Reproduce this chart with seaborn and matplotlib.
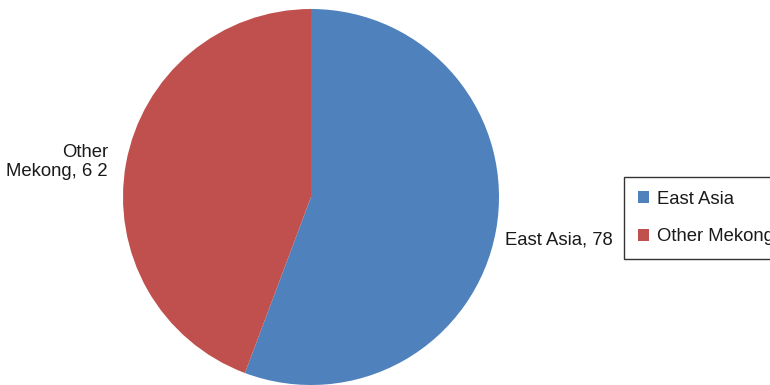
import matplotlib
matplotlib.use("Agg")
import matplotlib.pyplot as plt
import seaborn as sns

categories = ["East Asia", "Other Mekong"]
values = [78, 62]
label_texts = ["East Asia, 78", "Other\nMekong, 6 2"]
colors = ["#4F81BD", "#C0504D"]

sns.set_theme(style="white")
plt.rcParams["font.family"] = ["Liberation Sans", "DejaVu Sans"]

W, H = 770, 385
fig = plt.figure(figsize=(W / 100, H / 100), dpi=100)
fig.patch.set_facecolor("white")

cx, cy, r = 311, 197, 188
ax = fig.add_axes([(cx - r) / W, (H - cy - r) / H, 2 * r / W, 2 * r / H])
wedges, _ = ax.pie(values, colors=colors, startangle=90, counterclock=False,
                   radius=1.0, wedgeprops=dict(edgecolor="none"))
ax.set_xlim(-1, 1)
ax.set_ylim(-1, 1)
ax.set_aspect("equal")
ax.axis("off")

fs = 13.3
fig.text(505 / W, 1 - 240 / H, label_texts[0], ha="left", va="center",
         fontsize=fs, color="#1a1a1a")
fig.text(108 / W, 1 - 162 / H, label_texts[1], ha="right", va="center",
         fontsize=fs, color="#1a1a1a", multialignment="right", linespacing=1.2)

leg = fig.legend(wedges, categories, loc="upper left",
                 bbox_to_anchor=(624 / W, 1 - 177 / H), bbox_transform=fig.transFigure,
                 frameon=True, fancybox=False, fontsize=fs,
                 handlelength=0.6, handleheight=0.6, handletextpad=0.45,
                 labelspacing=1.1, borderpad=0.75, borderaxespad=0)
leg.get_frame().set_edgecolor("black")
leg.get_frame().set_linewidth(1.0)
for t in leg.get_texts():
    t.set_color("#1a1a1a")

fig.savefig("out.png", dpi=100)
